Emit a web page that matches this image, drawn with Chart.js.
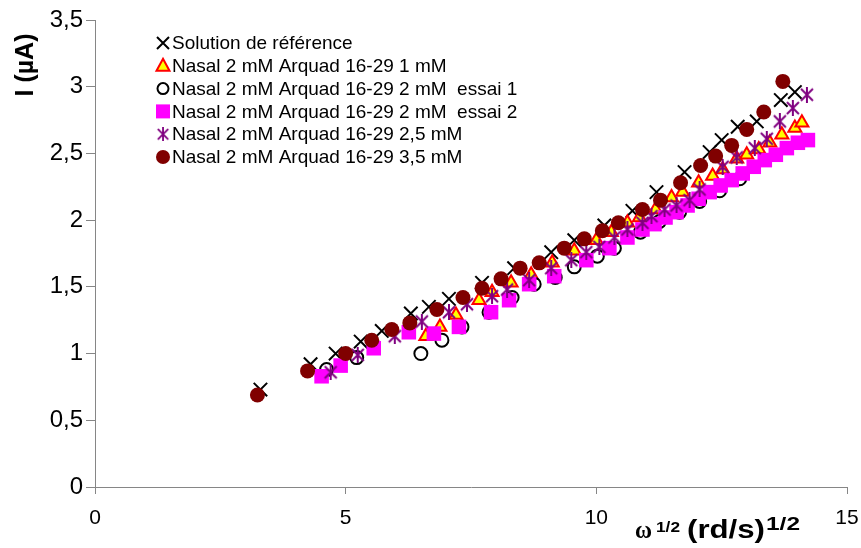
<!DOCTYPE html>
<html>
<head>
<meta charset="utf-8">
<script src="https://cdn.jsdelivr.net/npm/chart.js@4"></script>
<style>
  html, body { margin: 0; padding: 0; background: #fff; }
  #wrap { width: 861px; height: 548px; }
</style>
</head>
<body>
<div id="wrap"><canvas id="myChart" width="861" height="548"></canvas></div>
<script>
//-----------------DATOS------------------
var seriesLabels = [
    'Solution de référence',
    'Nasal 2 mM Arquad 16-29 1 mM',
    'Nasal 2 mM Arquad 16-29 2 mM  essai 1',
    'Nasal 2 mM Arquad 16-29 2 mM  essai 2',
    'Nasal 2 mM Arquad 16-29 2,5 mM',
    'Nasal 2 mM Arquad 16-29 3,5 mM'
];

// Solution de référence (x noires)
var xRef = [3.30, 4.30, 4.80, 5.30, 5.72, 6.30, 6.66, 7.06, 7.72, 8.36, 9.10, 9.56, 10.16, 10.72, 11.20, 11.76, 12.26, 12.50, 12.82, 13.20, 13.68, 13.96];
var yRef = [0.73, 0.92, 1.00, 1.09, 1.17, 1.30, 1.35, 1.41, 1.53, 1.64, 1.76, 1.85, 1.96, 2.07, 2.21, 2.36, 2.51, 2.60, 2.70, 2.74, 2.90, 2.96];

// 1 mM (triangles)
var x1 = [6.60, 6.88, 7.20, 7.66, 7.92, 8.30, 8.70, 9.12, 9.56, 10.00, 10.30, 10.62, 10.86, 11.18, 11.50, 11.72, 12.04, 12.32, 12.52, 12.80, 13.00, 13.24, 13.46, 13.70, 13.96, 14.10];
var y1 = [1.13, 1.20, 1.29, 1.40, 1.46, 1.53, 1.59, 1.68, 1.77, 1.85, 1.91, 1.98, 2.02, 2.08, 2.17, 2.21, 2.28, 2.33, 2.38, 2.46, 2.49, 2.53, 2.58, 2.64, 2.69, 2.73];

// 2 mM essai 1 (cercles vides)
var x2a = [4.62, 5.22, 6.50, 6.92, 7.32, 7.86, 8.32, 8.76, 9.18, 9.56, 10.02, 10.36, 10.88, 11.26, 11.66, 12.06, 12.46, 12.86];
var y2a = [0.88, 0.97, 1.00, 1.10, 1.20, 1.31, 1.42, 1.52, 1.57, 1.65, 1.73, 1.79, 1.91, 1.99, 2.06, 2.14, 2.22, 2.31];

// 2 mM essai 2 (carrés)
var x2b = [4.52, 4.90, 5.56, 6.26, 6.76, 7.26, 7.90, 8.26, 8.66, 9.16, 9.80, 10.26, 10.62, 10.92, 11.16, 11.38, 11.60, 11.82, 12.04, 12.26, 12.48, 12.70, 12.92, 13.14, 13.36, 13.58, 13.80, 14.02, 14.22];
var y2b = [0.83, 0.91, 1.04, 1.16, 1.15, 1.20, 1.31, 1.40, 1.52, 1.58, 1.70, 1.79, 1.87, 1.93, 1.97, 2.02, 2.06, 2.11, 2.16, 2.21, 2.26, 2.30, 2.35, 2.40, 2.45, 2.49, 2.54, 2.58, 2.60];

// 2,5 mM (étoiles violettes)
var x25 = [4.70, 5.24, 5.98, 6.52, 7.06, 7.42, 7.92, 8.22, 8.66, 9.10, 9.50, 9.80, 10.06, 10.36, 10.62, 10.92, 11.10, 11.36, 11.60, 11.86, 12.06, 12.52, 12.80, 13.16, 13.40, 13.66, 13.92, 14.20];
var y25 = [0.86, 0.99, 1.13, 1.24, 1.31, 1.37, 1.43, 1.48, 1.55, 1.64, 1.70, 1.76, 1.80, 1.87, 1.93, 1.98, 2.03, 2.08, 2.11, 2.15, 2.23, 2.40, 2.47, 2.54, 2.61, 2.74, 2.84, 2.94];

// 3,5 mM (cercles pleins)
var x35 = [3.24, 4.24, 5.00, 5.52, 5.92, 6.28, 6.82, 7.34, 7.72, 8.10, 8.48, 8.86, 9.36, 9.76, 10.12, 10.44, 10.92, 11.28, 11.68, 12.08, 12.38, 12.70, 13.00, 13.34, 13.72];
var y35 = [0.69, 0.87, 1.00, 1.10, 1.18, 1.23, 1.33, 1.42, 1.49, 1.56, 1.64, 1.68, 1.79, 1.86, 1.92, 1.98, 2.08, 2.15, 2.28, 2.41, 2.48, 2.56, 2.68, 2.81, 3.04];

var xTicksMin = 0, xTicksMax = 15, xStep = 5;
var yTicksMin = 0, yTicksMax = 3.5, yStep = 0.5;

//-----------------FUNCIONES------------------
function zip(xs, ys) {
    var out = [];
    for (var i = 0; i < xs.length; i++) out.push({x: xs[i], y: ys[i]});
    return out;
}

// marcador asterisco (x + barra vertical) como en Excel
function makeAsterisk(size, color) {
    var c = document.createElement('canvas');
    c.width = size; c.height = size;
    var g = c.getContext('2d');
    g.strokeStyle = color;
    g.lineWidth = 2;
    var m = 2, s = size - 2;
    g.beginPath();
    g.moveTo(m, m); g.lineTo(s, s);
    g.moveTo(s, m); g.lineTo(m, s);
    g.moveTo(size / 2, 0); g.lineTo(size / 2, size);
    g.stroke();
    return c;
}
var asterisk = makeAsterisk(16, '#800080');

function drawMarker(ctx, kind, x, y) {
    ctx.save();
    if (kind === 'x') {
        ctx.strokeStyle = '#000'; ctx.lineWidth = 2;
        ctx.beginPath();
        ctx.moveTo(x - 6, y - 6); ctx.lineTo(x + 6, y + 6);
        ctx.moveTo(x + 6, y - 6); ctx.lineTo(x - 6, y + 6);
        ctx.stroke();
    } else if (kind === 'tri') {
        ctx.fillStyle = '#FFFF00'; ctx.strokeStyle = '#FF0000'; ctx.lineWidth = 2;
        ctx.beginPath();
        ctx.moveTo(x, y - 7); ctx.lineTo(x + 6.5, y + 5); ctx.lineTo(x - 6.5, y + 5); ctx.closePath();
        ctx.fill(); ctx.stroke();
    } else if (kind === 'ring') {
        ctx.strokeStyle = '#000'; ctx.lineWidth = 2;
        ctx.beginPath(); ctx.arc(x, y, 5.5, 0, Math.PI * 2); ctx.stroke();
    } else if (kind === 'sq') {
        ctx.fillStyle = '#FF00FF';
        ctx.fillRect(x - 7, y - 7, 14, 14);
    } else if (kind === 'ast') {
        ctx.drawImage(asterisk, x - 7, y - 7, 14, 14);
    } else if (kind === 'dot') {
        ctx.fillStyle = '#800000';
        ctx.beginPath(); ctx.arc(x, y, 7, 0, Math.PI * 2); ctx.fill();
    }
    ctx.restore();
}

// texte ajusté à une largeur donnée
function fitText(ctx, text, x, y, font, w) {
    ctx.save();
    ctx.font = font;
    var m = ctx.measureText(text).width;
    ctx.translate(x, y);
    ctx.scale(w / m, 1);
    ctx.fillText(text, 0, 0);
    ctx.restore();
}

var decor = {
    id: 'decor',
    afterDraw: function (chart) {
        var ctx = chart.ctx;
        // légende dans la zone du graphique
        var kinds = ['x', 'tri', 'ring', 'sq', 'ast', 'dot'];
        ctx.save();
        ctx.fillStyle = '#000';
        ctx.font = '19px "Liberation Sans", Arial, sans-serif';
        ctx.textBaseline = 'middle';
        for (var i = 0; i < seriesLabels.length; i++) {
            var yy = 43 + i * 22.8;
            drawMarker(ctx, kinds[i], 163, yy);
            ctx.fillText(seriesLabels[i], 172, yy + 1);
        }
        ctx.restore();

        // titre axe Y
        ctx.save();
        ctx.fillStyle = '#000';
        ctx.translate(33, 65);
        ctx.rotate(-Math.PI / 2);
        ctx.font = 'bold 25px "Liberation Sans", Arial, sans-serif';
        ctx.textAlign = 'center';
        ctx.textBaseline = 'alphabetic';
        ctx.fillText('I (µA)', 0, 0);
        ctx.restore();

        // titre axe X
        ctx.save();
        ctx.fillStyle = '#000';
        ctx.textBaseline = 'alphabetic';
        fitText(ctx, 'ω', 635, 538, 'bold 26px "Liberation Serif", serif', 17);
        fitText(ctx, '1/2', 656, 532, 'bold 15px "Liberation Sans", Arial, sans-serif', 24);
        fitText(ctx, '(rd/s)', 687, 538, 'bold 25px "Liberation Sans", Arial, sans-serif', 78);
        fitText(ctx, '1/2', 766, 530, 'bold 18px "Liberation Sans", Arial, sans-serif', 34);
        ctx.restore();
    }
};

//-----------------GRAFICO------------------
var axisColor = '#868686';
var ctx = document.getElementById('myChart').getContext('2d');
var myChart = new Chart(ctx, {
    type: 'scatter',
    data: {
        datasets: [
            {label: seriesLabels[0], data: zip(xRef, yRef), order: 5,
             pointStyle: 'crossRot', pointRadius: 9.5, borderColor: '#000', borderWidth: 2},
            {label: seriesLabels[1], data: zip(x1, y1), order: 4,
             pointStyle: 'triangle', pointRadius: 7.5, backgroundColor: '#FFFF00', borderColor: '#FF0000', borderWidth: 2},
            {label: seriesLabels[2], data: zip(x2a, y2a), order: 3,
             pointStyle: 'circle', pointRadius: 6.5, backgroundColor: 'rgba(0,0,0,0)', borderColor: '#000', borderWidth: 2},
            {label: seriesLabels[3], data: zip(x2b, y2b), order: 2,
             pointStyle: 'rect', pointRadius: 10.3, backgroundColor: '#FF00FF', borderColor: '#FF00FF', borderWidth: 0},
            {label: seriesLabels[4], data: zip(x25, y25), order: 1,
             pointStyle: asterisk, pointRadius: 8, borderColor: '#800080'},
            {label: seriesLabels[5], data: zip(x35, y35), order: 0,
             pointStyle: 'circle', pointRadius: 7.5, backgroundColor: '#800000', borderColor: '#800000', borderWidth: 0}
        ]
    },
    options: {
        responsive: false,
        animation: false,
        events: [],
        layout: {padding: {top: 20, right: 14, left: 0, bottom: 0}},
        plugins: {legend: {display: false}, tooltip: {enabled: false}},
        scales: {
            x: {
                type: 'linear',
                min: xTicksMin, max: xTicksMax,
                grid: {drawOnChartArea: false, drawTicks: true, tickLength: 7, color: axisColor},
                border: {color: axisColor, width: 1},
                ticks: {stepSize: xStep, color: '#000', padding: 12,
                        font: {family: '"Liberation Sans", Arial, sans-serif', size: 21}},
                afterFit: function (s) { s.height = 61; s.paddingRight = 0; s.paddingLeft = 0; }
            },
            y: {
                type: 'linear',
                min: yTicksMin, max: yTicksMax,
                grid: {drawOnChartArea: false, drawTicks: true, tickLength: 9, color: axisColor},
                border: {color: axisColor, width: 1},
                ticks: {stepSize: yStep, color: '#000', padding: 3,
                        font: {family: '"Liberation Sans", Arial, sans-serif', size: 24},
                        callback: function (v) { return String(v).replace('.', ','); }},
                afterFit: function (s) { s.width = 95; s.paddingTop = 0; s.paddingBottom = 0; }
            }
        }
    },
    plugins: [decor]
});
</script>
</body>
</html>
